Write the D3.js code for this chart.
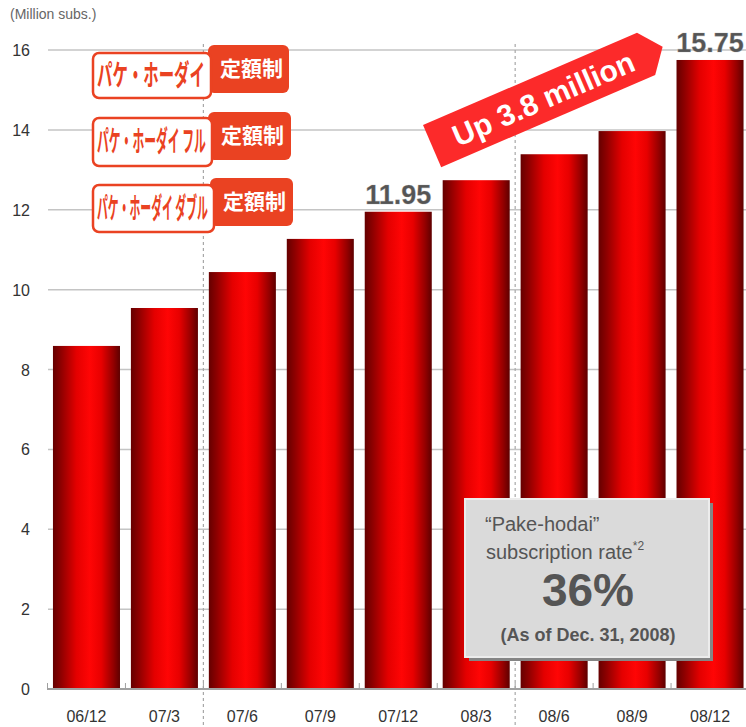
<!DOCTYPE html>
<html>
<head>
<meta charset="utf-8">
<script src="https://cdn.jsdelivr.net/npm/d3@7"></script>
<style>
  html, body { margin: 0; padding: 0; background: #fff; }
  svg { display: block; font-family: "Liberation Sans", Arial, sans-serif; }
</style>
</head>
<body>
<svg id="chart" width="746" height="727"></svg>
<script>
// Quarter-end labels (YY/M)
const periods = ["06/12", "07/3", "07/6", "07/9", "07/12", "08/3", "08/6", "08/9", "08/12"];
// Pake-hodai subscribers, million
const subscribers = [8.59, 9.54, 10.44, 11.27, 11.95, 12.74, 13.39, 13.97, 15.75];
// Bars that carry a value label
const labelledPeriods = ["07/12", "08/12"];
// Y axis ticks
const yTicks = [0, 2, 4, 6, 8, 10, 12, 14, 16];
// Fiscal-year separators sit before these periods
const fySeparators = ["07/6", "08/6"];
// Plan logos
const plans = ["パケ・ホーダイ", "パケ・ホーダイ フル", "パケ・ホーダイ ダブル"];
const planTag = "定額制";

const svg = d3.select("#chart");
const W = 746, H = 727;

const x = d3.scaleBand().domain(periods).range([47.5, 749]).paddingInner(0.14).paddingOuter(0.07);
const y = d3.scaleLinear().domain([0, 16]).range([689, 50]);

const defs = svg.append("defs");
const grad = defs.append("linearGradient").attr("id", "barGrad")
  .attr("x1", "0%").attr("x2", "100%").attr("y1", "0%").attr("y2", "0%");
[[0, "#650000"], [0.12, "#8e0000"], [0.35, "#e40000"], [0.55, "#ff0505"], [0.72, "#e80000"], [0.9, "#940000"], [1, "#5e0000"]]
  .forEach(([o, c]) => grad.append("stop").attr("offset", o).attr("stop-color", c));

// gridlines
svg.append("g").selectAll("line").data(yTicks.filter(d => d > 0)).join("line")
  .attr("x1", 48).attr("x2", W)
  .attr("y1", d => y(d)).attr("y2", d => y(d))
  .attr("stroke", "#c4c4c4").attr("stroke-width", 1.5);

// fiscal-year dashed separators
const step = x.step();
const boundary = p => x(p) - step * x.paddingInner() / 2;
svg.append("g").selectAll("line").data(fySeparators).join("line")
  .attr("x1", d => boundary(d)).attr("x2", d => boundary(d))
  .attr("y1", 44).attr("y2", H)
  .attr("stroke", "#a8a8a8").attr("stroke-width", 1.2).attr("stroke-dasharray", "3,3");

// bars
svg.append("g").selectAll("rect").data(periods).join("rect")
  .attr("x", d => x(d))
  .attr("y", (d, i) => y(subscribers[i]))
  .attr("width", x.bandwidth())
  .attr("height", (d, i) => y(0) - y(subscribers[i]))
  .attr("fill", "url(#barGrad)");

// x axis line with small boundary ticks
const axisG = svg.append("g");
axisG.append("line").attr("x1", 47).attr("x2", W).attr("y1", y(0)).attr("y2", y(0))
  .attr("stroke", "#a0a0a0").attr("stroke-width", 2);
axisG.selectAll("line.tk").data(periods).join("line").attr("class", "tk")
  .attr("x1", d => boundary(d)).attr("x2", d => boundary(d))
  .attr("y1", y(0) - 6).attr("y2", y(0))
  .attr("stroke", "#a0a0a0").attr("stroke-width", 1);

// x labels
svg.append("g").selectAll("text").data(periods).join("text")
  .attr("x", d => x(d) + x.bandwidth() / 2)
  .attr("y", 722)
  .attr("text-anchor", "middle")
  .attr("font-size", 16).attr("fill", "#333")
  .text(d => d);

// y labels
svg.append("g").selectAll("text").data(yTicks).join("text")
  .attr("x", 30).attr("y", d => y(d) + 6)
  .attr("text-anchor", "end")
  .attr("font-size", 16).attr("fill", "#333")
  .text(d => d);

svg.append("text").attr("x", 10).attr("y", 19)
  .attr("font-size", 14).attr("fill", "#666").text("(Million subs.)");

// value labels
const fmt = d3.format(".2f");
svg.append("g").selectAll("text")
  .data(periods.map((p, i) => ({ p, v: subscribers[i] })).filter(d => labelledPeriods.includes(d.p)))
  .join("text")
  .attr("x", d => x(d.p) + x.bandwidth() / 2)
  .attr("y", d => y(d.v) - 8)
  .attr("text-anchor", "middle")
  .attr("font-size", 27).attr("font-weight", "bold").attr("fill", "#555")
  .attr("stroke", "#999").attr("stroke-width", 0.6).attr("stroke-opacity", 0.5)
  .text(d => fmt(d.v));

// plan logos
const logoRows = [
  { w: [92, 52, 120, 47], r: [208, 45, 81, 48] },
  { w: [92, 117, 121, 50], r: [208, 112, 83, 48] },
  { w: [92, 184, 123, 49], r: [210, 178, 83, 48] }
];
const logoRed = "#ea4222";
const logos = svg.append("g");
logoRows.forEach((row, i) => {
  const g = logos.append("g");
  g.append("rect").attr("x", row.r[0]).attr("y", row.r[1]).attr("width", row.r[2]).attr("height", row.r[3])
    .attr("rx", 6).attr("fill", logoRed);
  g.append("rect").attr("x", row.w[0] + 1).attr("y", row.w[1] + 1).attr("width", row.w[2] - 2).attr("height", row.w[3] - 2)
    .attr("rx", 6).attr("fill", "#fff").attr("stroke", logoRed).attr("stroke-width", 2.5);
  // condensed plan name: squeeze horizontally to fit the white box
  const nameG = g.append("g");
  const name = nameG.append("text")
    .attr("x", 0).attr("y", 0)
    .attr("font-family", "'Noto Sans CJK JP', sans-serif").attr("font-weight", "bold")
    .attr("font-size", 29).attr("fill", logoRed)
    .text(plans[i]);
  const natural = name.node().getComputedTextLength();
  const sx = (row.w[2] - 12) / natural;
  nameG.attr("transform", `translate(${row.w[0] + 5},${row.w[1] + row.w[3] / 2 + 10}) scale(${sx},1)`);
  g.append("text")
    .attr("x", row.r[0] + row.r[2] / 2 + 3).attr("y", row.r[1] + row.r[3] / 2 + 7)
    .attr("text-anchor", "middle")
    .attr("font-family", "'Noto Sans CJK JP', sans-serif").attr("font-weight", "bold")
    .attr("font-size", 21).attr("fill", "#fff")
    .text(planTag);
});

// growth banner
const growth = subscribers[subscribers.length - 1] - subscribers[periods.indexOf("07/12")];
const banner = svg.append("g").attr("transform", "translate(423,125) rotate(-23.3)");
banner.append("polygon").attr("points", "0,0 233,0 251,23 233,46 0,46").attr("fill", "#fc2a2a");
banner.append("text").attr("x", 121).attr("y", 34)
  .attr("text-anchor", "middle").attr("font-size", 30).attr("font-weight", "bold").attr("fill", "#fff")
  .text(`Up ${d3.format(".1f")(growth)} million`);

// subscription rate box
const box = svg.append("g");
box.append("rect").attr("x", 469).attr("y", 503).attr("width", 244).attr("height", 158).attr("fill", "#858585");
box.append("rect").attr("x", 465).attr("y", 499).attr("width", 244).attr("height", 158)
  .attr("fill", "#dadada").attr("stroke", "#ececec").attr("stroke-width", 2);
box.append("text").attr("x", 485).attr("y", 531).attr("font-size", 20).attr("fill", "#555").text("“Pake-hodai”");
const sub = box.append("text").attr("x", 486).attr("y", 559).attr("font-size", 20).attr("fill", "#555");
sub.append("tspan").text("subscription rate");
sub.append("tspan").attr("dy", -9).attr("font-size", 12).text("*2");
box.append("text").attr("x", 588).attr("y", 606).attr("text-anchor", "middle")
  .attr("font-size", 46).attr("font-weight", "bold").attr("fill", "#555").text("36%");
box.append("text").attr("x", 588).attr("y", 641).attr("text-anchor", "middle")
  .attr("font-size", 18).attr("font-weight", "bold").attr("fill", "#555").text("(As of Dec. 31, 2008)");
</script>
</body>
</html>
